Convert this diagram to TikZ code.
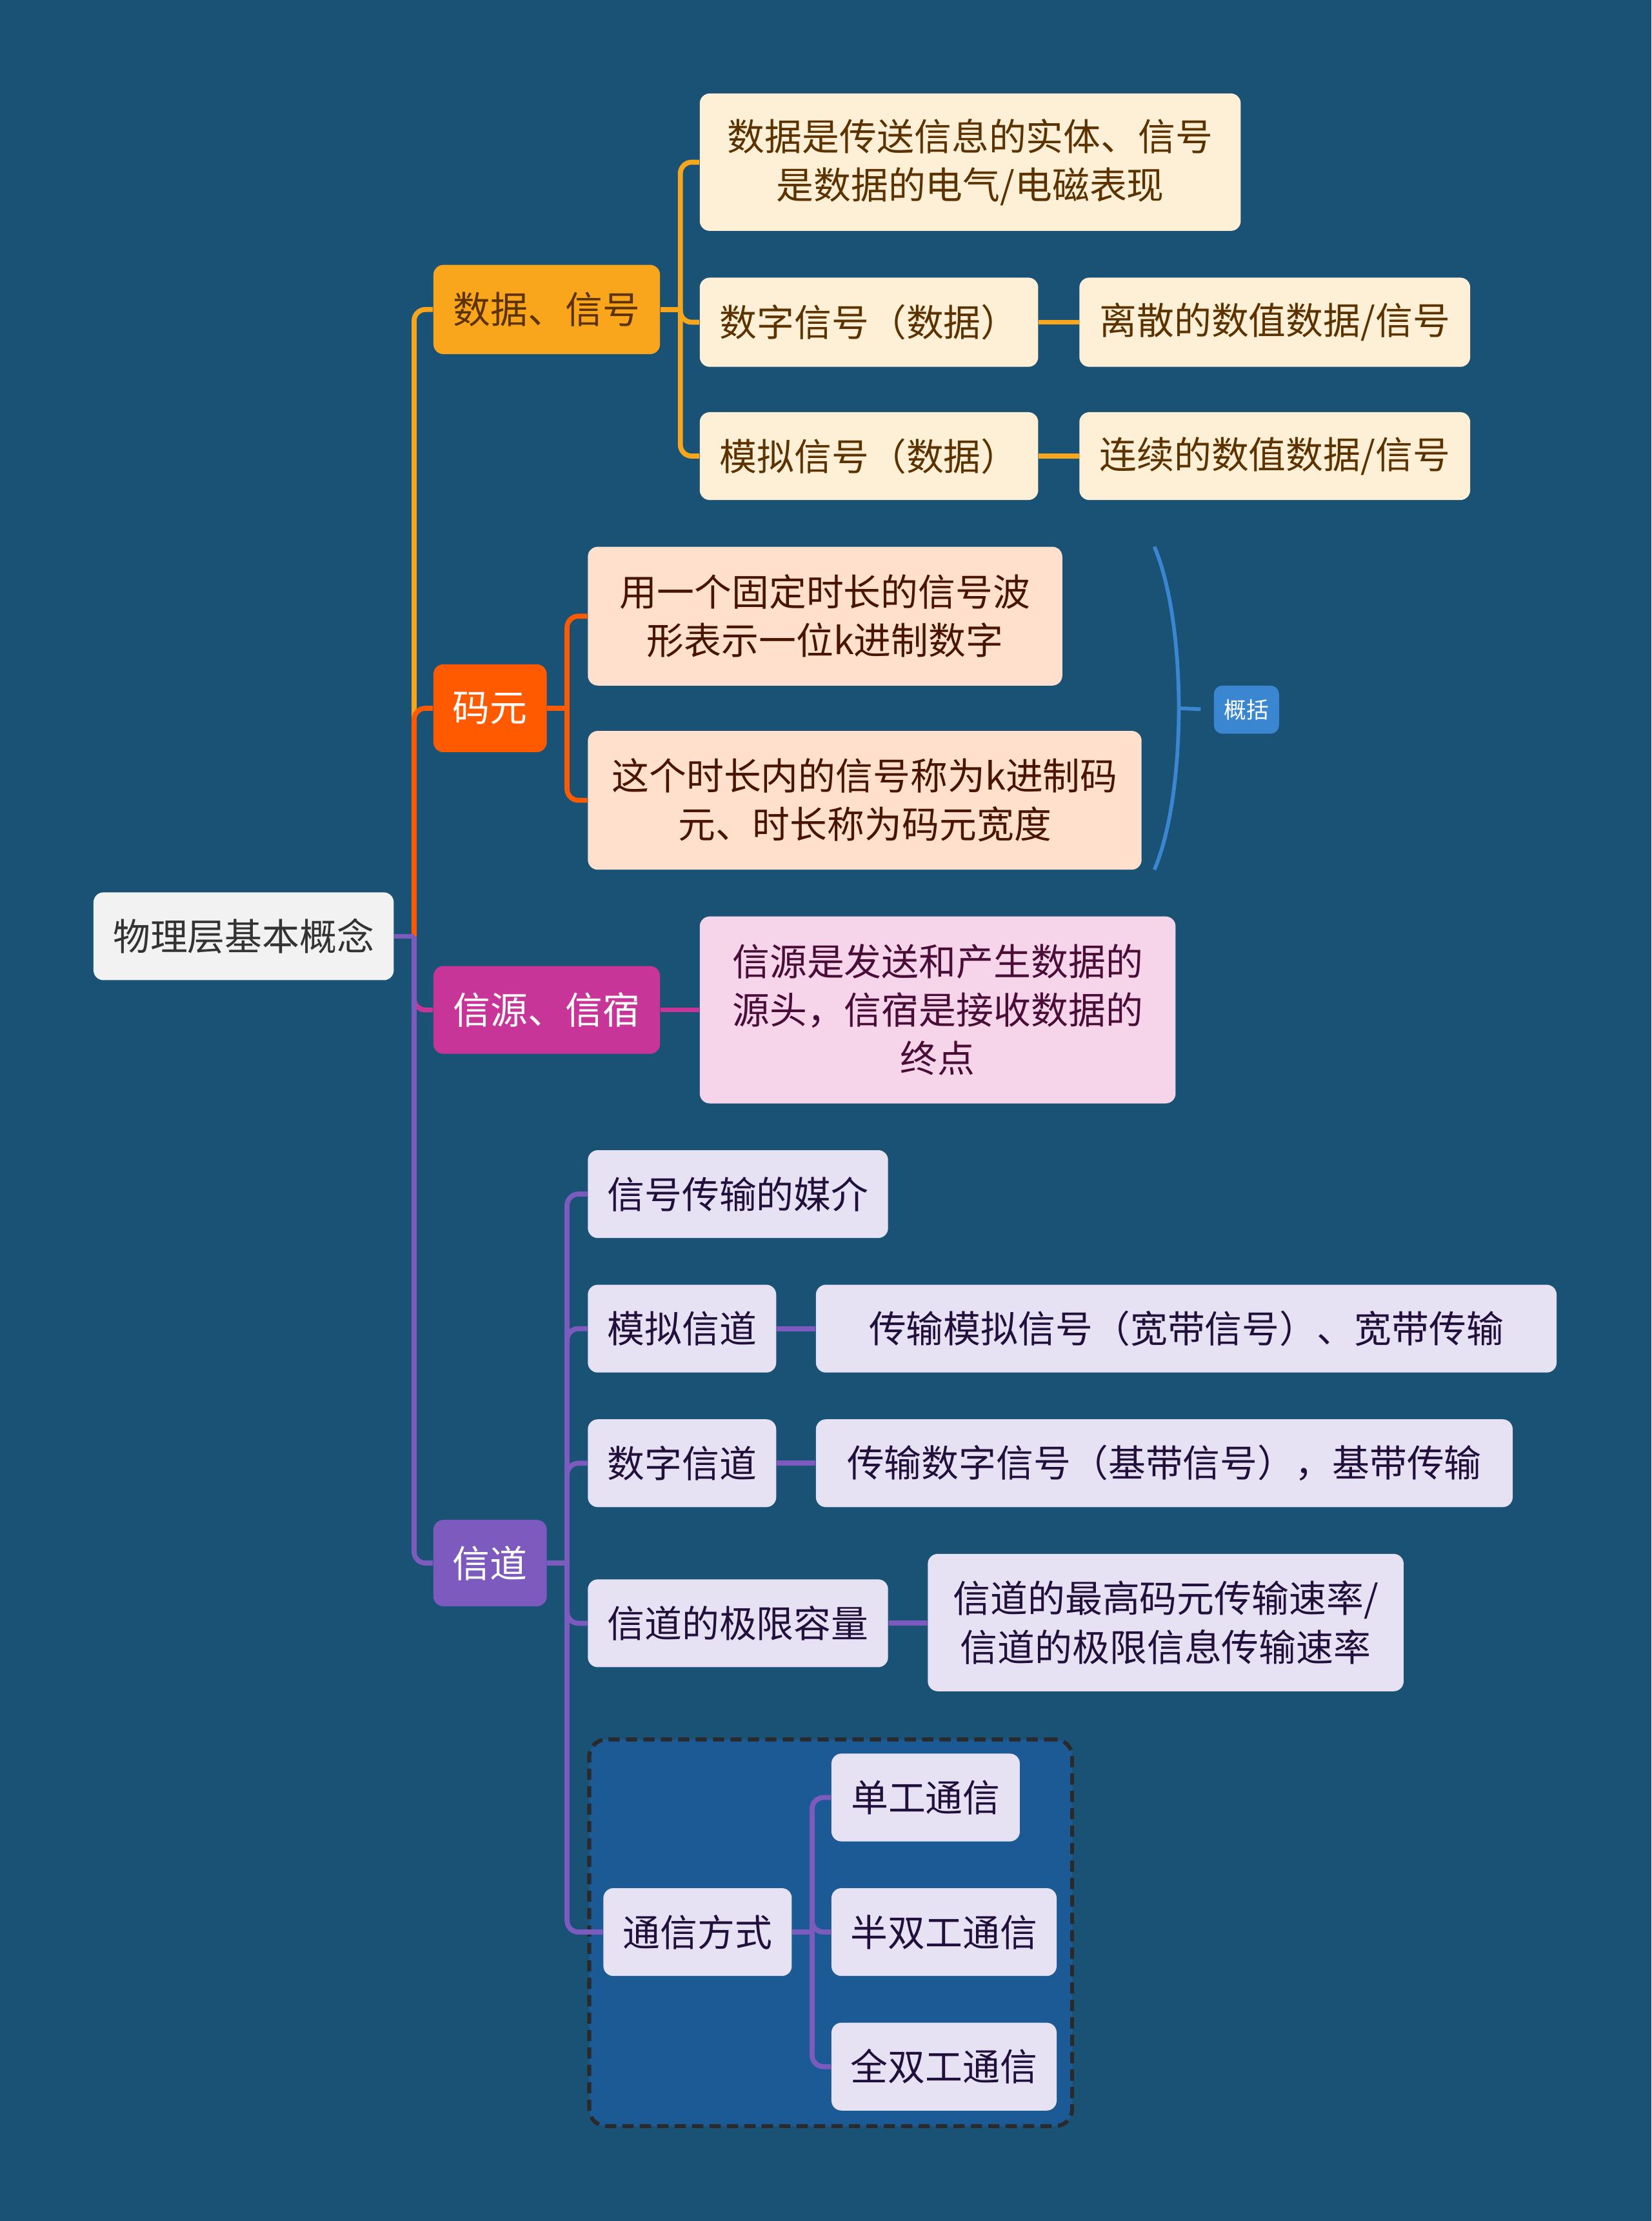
\documentclass[tikz,border=0pt]{standalone}
\usepackage{fontspec}
\setmainfont{Noto Sans CJK SC}
\usetikzlibrary{calc}
\definecolor{bgblue}{HTML}{1A5276}
\definecolor{grpblue}{HTML}{1C5A95}
\definecolor{grpline}{HTML}{2A2A2A}
\definecolor{rootgray}{HTML}{F2F2F2}
\definecolor{roottext}{HTML}{333333}
\definecolor{sigorange}{HTML}{FAA61C}
\definecolor{sigcream}{HTML}{FEF0D6}
\definecolor{sigtext}{HTML}{5C3300}
\definecolor{symred}{HTML}{FF5A00}
\definecolor{sympeach}{HTML}{FFE0CD}
\definecolor{symtext}{HTML}{4A1500}
\definecolor{srcpink}{HTML}{C83598}
\definecolor{srclight}{HTML}{F6D5EB}
\definecolor{srctext}{HTML}{4A0D38}
\definecolor{chpurple}{HTML}{7D5BBE}
\definecolor{chlight}{HTML}{E6E1F3}
\definecolor{chtext}{HTML}{22103C}
\definecolor{sumblue}{HTML}{3A86D0}
\tikzset{
  box/.style={
    rounded corners=0.14cm,
    inner sep=0,
    align=center,
    font=\fontsize{15}{19.5}\selectfont
  },
  rootbox/.style={box, fill=rootgray, text=roottext},
  sigmain/.style={box, fill=sigorange, text=sigtext},
  sigsub/.style={box, fill=sigcream, text=sigtext},
  symmain/.style={box, fill=symred, text=white},
  symsub/.style={box, fill=sympeach, text=symtext},
  srcmain/.style={box, fill=srcpink, text=white},
  srcsub/.style={box, fill=srclight, text=srctext},
  chmain/.style={box, fill=chpurple, text=white},
  chsub/.style={box, fill=chlight, text=chtext},
  sumbox/.style={
    rounded corners=0.12cm,
    inner sep=0,
    fill=sumblue,
    text=white,
    font=\fontsize{9}{11}\selectfont
  },
  grpbox/.style={
    draw=grpline,
    fill=grpblue,
    dash pattern=on 4.5pt off 2.5pt,
    line width=1.6pt,
    rounded corners=0.24cm
  },
  branch/.style={line width=2pt, rounded corners=0.16cm}
}
\begin{document}
\begin{tikzpicture}[x=0.02cm, y=-0.02cm]
  \fill[bgblue] (0,0) rectangle (1166,1568);
  \useasboundingbox (0,0) rectangle (1166,1568);

  \node[grpbox, minimum width=6.82cm, minimum height=5.46cm] (grp) at (586.5,1364.5) {};

  \node[rootbox, minimum width=4.24cm, minimum height=1.24cm] (root) at (172,661) {物理层基本概念};

  % data and signal
  \node[sigmain, minimum width=3.2cm, minimum height=1.26cm] (sig) at (386,218.5) {数据、信号};
  \node[sigsub, minimum width=7.64cm, minimum height=1.94cm] (sigdef) at (685,114.5) {数据是传送信息的实体、信号\\是数据的电气/电磁表现};
  \node[sigsub, minimum width=4.78cm, minimum height=1.26cm] (digsig) at (613.5,227.5) {数字信号（数据）};
  \node[sigsub, minimum width=5.52cm, minimum height=1.26cm] (digval) at (900,227.5) {离散的数值数据/信号};
  \node[sigsub, minimum width=4.78cm, minimum height=1.24cm] (anasig) at (613.5,322) {模拟信号（数据）};
  \node[sigsub, minimum width=5.52cm, minimum height=1.24cm] (anaval) at (900,322) {连续的数值数据/信号};

  % symbol
  \node[symmain, minimum width=1.6cm, minimum height=1.24cm] (sym) at (346,500) {码元};
  \node[symsub, minimum width=6.7cm, minimum height=1.96cm] (symwave) at (582.5,435) {用一个固定时长的信号波\\形表示一位k进制数字};
  \node[symsub, minimum width=7.82cm, minimum height=1.96cm] (symwidth) at (610.5,565) {这个时长内的信号称为k进制码\\元、时长称为码元宽度};
  \node[sumbox, minimum width=0.92cm, minimum height=0.68cm] (sum) at (880,501) {概括};

  % source and sink
  \node[srcmain, minimum width=3.2cm, minimum height=1.24cm] (src) at (386,713) {信源、信宿};
  \node[srcsub, minimum width=6.72cm, minimum height=2.64cm] (srcdef) at (662,713) {信源是发送和产生数据的\\源头，信宿是接收数据的\\终点};

  % channel
  \node[chmain, minimum width=1.6cm, minimum height=1.22cm] (ch) at (346,1103.5) {信道};
  \node[chsub, minimum width=4.24cm, minimum height=1.24cm] (chmed) at (521,843) {信号传输的媒介};
  \node[chsub, minimum width=2.66cm, minimum height=1.24cm] (chana) at (481.5,938) {模拟信道};
  \node[chsub, minimum width=10.46cm, minimum height=1.24cm] (chanadef) at (837.5,938) {传输模拟信号（宽带信号）、宽带传输};
  \node[chsub, minimum width=2.66cm, minimum height=1.24cm] (chdig) at (481.5,1033) {数字信道};
  \node[chsub, minimum width=9.84cm, minimum height=1.24cm] (chdigdef) at (822,1033) {传输数字信号（基带信号），基带传输};
  \node[chsub, minimum width=4.24cm, minimum height=1.24cm] (chcap) at (521,1146) {信道的极限容量};
  \node[chsub, minimum width=6.72cm, minimum height=1.94cm] (chcapdef) at (823,1145.5) {信道的最高码元传输速率/\\信道的极限信息传输速率};
  \node[chsub, minimum width=2.66cm, minimum height=1.24cm] (mode) at (492.5,1364) {通信方式};
  \node[chsub, minimum width=2.66cm, minimum height=1.24cm] (simplex) at (653.5,1269) {单工通信};
  \node[chsub, minimum width=3.18cm, minimum height=1.24cm] (halfdup) at (666.5,1364) {半双工通信};
  \node[chsub, minimum width=3.18cm, minimum height=1.24cm] (fulldup) at (666.5,1459) {全双工通信};

  \coordinate (rt) at ($(root.east)+(14,0)$);
  \coordinate (sigj) at ($(sig.east)+(14,0)$);
  \coordinate (symj) at ($(sym.east)+(14,0)$);
  \coordinate (chj) at ($(ch.east)+(14,0)$);
  \coordinate (modej) at ($(mode.east)+(14,0)$);

  % main branches
  \draw[branch, sigorange] (rt) |- (sig.west);
  \draw[branch, symred] (rt) |- (sym.west);
  \draw[branch, srcpink] (rt) |- (src.west);
  \draw[branch, chpurple] (rt) |- (ch.west);
  \draw[branch, chpurple] (root.east) -- (rt);

  \draw[branch, sigorange] (sig.east) -- (sigj);
  \draw[branch, sigorange] (sigj) |- (sigdef.west);
  \draw[branch, sigorange] (sigj) |- (digsig.west);
  \draw[branch, sigorange] (sigj) |- (anasig.west);
  \draw[branch, sigorange] (digsig) -- (digval);
  \draw[branch, sigorange] (anasig) -- (anaval);

  \draw[branch, symred] (sym.east) -- (symj);
  \draw[branch, symred] (symj) |- (symwave.west);
  \draw[branch, symred] (symj) |- (symwidth.west);

  \draw[branch, srcpink] (src) -- (srcdef);

  \draw[branch, chpurple] (ch.east) -- (chj);
  \draw[branch, chpurple] (chj) |- (chmed.west);
  \draw[branch, chpurple] (chj) |- (chana.west);
  \draw[branch, chpurple] (chj) |- (chdig.west);
  \draw[branch, chpurple] (chj) |- (chcap.west);
  \draw[branch, chpurple] (chj) |- (mode.west);
  \draw[branch, chpurple] (chana) -- (chanadef);
  \draw[branch, chpurple] (chdig) -- (chdigdef);
  \draw[branch, chpurple] (chcap) -- (chcapdef);

  \draw[branch, chpurple] (mode.east) -- (modej);
  \draw[branch, chpurple] (modej) |- (simplex.west);
  \draw[branch, chpurple] (modej) |- (halfdup.west);
  \draw[branch, chpurple] (modej) |- (fulldup.west);

  % summary bracket
  \coordinate (brtop) at (815,386);
  \coordinate (brbot) at (815,614);
  \coordinate (brmid) at (832,500);
  \draw[sumblue, line width=1.5pt] (brtop) .. controls (838,440) and (838,560) .. (brbot);
  \draw[sumblue, line width=1.5pt, shorten >=0.18cm] (brmid) -- (sum.west);
\end{tikzpicture}
\end{document}
